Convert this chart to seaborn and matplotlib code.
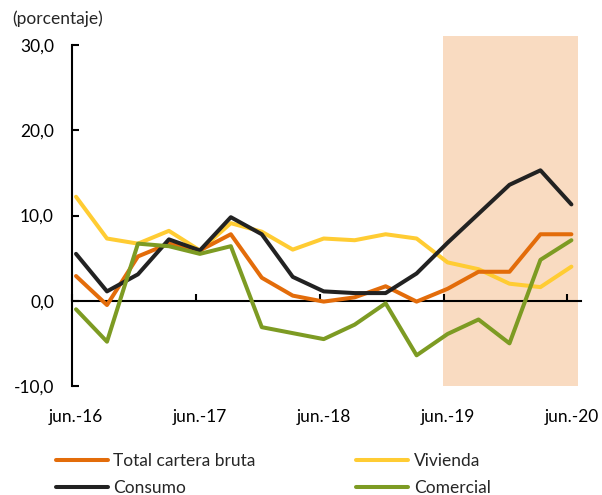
import matplotlib
matplotlib.use("Agg")
import matplotlib.pyplot as plt
import numpy as np
import pandas as pd
import seaborn as sns

# trimestres jun.-16 ... jun.-20
periodos = list(range(17))
etiquetas = ["jun.-16", "jun.-17", "jun.-18", "jun.-19", "jun.-20"]
pos_etiquetas = [0, 4, 8, 12, 16]

total = [2.9, -0.5, 5.2, 6.7, 5.9, 7.8, 2.7, 0.6, -0.1, 0.4, 1.7, -0.1, 1.4, 3.4, 3.4, 7.8, 7.8]
consumo = [5.5, 1.1, 3.1, 7.2, 5.9, 9.8, 7.8, 2.8, 1.1, 0.9, 0.9, 3.2, 6.8, 10.2, 13.6, 15.3, 11.3]
vivienda = [12.2, 7.3, 6.7, 8.2, 5.9, 9.1, 8.1, 6.0, 7.3, 7.1, 7.8, 7.3, 4.5, 3.7, 2.0, 1.6, 4.0]
comercial = [-1.0, -4.8, 6.7, 6.4, 5.5, 6.4, -3.1, -3.8, -4.5, -2.8, -0.3, -6.4, -3.9, -2.2, -5.0, 4.8, 7.1]

series = {
    "Total cartera bruta": (total, "#E36C0A", 3),
    "Consumo": (consumo, "#222222", 4),
    "Vivienda": (vivienda, "#FFCC33", 2),
    "Comercial": (comercial, "#7D9B23", 5),
}

sns.set_style("white")
plt.rcParams["font.family"] = ["Lato", "DejaVu Sans"]
fs = 12.5

fig = plt.figure(figsize=(6.02, 4.95), dpi=100)
ax = fig.add_axes([0.1196, 0.2202, 0.845, 0.7061])

ax.axvspan(11.85, 16.2, color="#F9DBC1", lw=0, zorder=0)

handles = {}
for nombre, (vals, color, z) in series.items():
    df = pd.DataFrame({"x": periodos, "y": vals})
    sns.lineplot(data=df, x="x", y="y", color=color, lw=2.9, ax=ax, zorder=z, label=nombre)
    handles[nombre] = ax.lines[-1]
ax.get_legend().remove()

ax.set_xlim(-0.13, 16.3)
ax.set_ylim(-10, 31)
ax.set_xlabel("")
ax.set_ylabel("")

for s in ["top", "right"]:
    ax.spines[s].set_visible(False)
ax.spines["left"].set_bounds(-10, 30)
ax.spines["left"].set_linewidth(1.5)
ax.spines["left"].set_color("black")
ax.spines["bottom"].set_position(("data", 0))
ax.spines["bottom"].set_bounds(-0.13, 16.3)
ax.spines["bottom"].set_linewidth(1.5)
ax.spines["bottom"].set_color("black")

ax.set_yticks([-10, 0, 10, 20, 30])
ax.set_yticklabels(["-10,0", "0,0", "10,0", "20,0", "30,0"])
# etiquetas centradas en el dato, marcas un poco a la izquierda
ax.set_xticks(pos_etiquetas)
ax.set_xticklabels(etiquetas)
ax.set_xticks([p - 0.13 for p in pos_etiquetas], minor=True)
ax.tick_params(axis="y", which="major", left=True, direction="in", length=5, width=1.5,
               pad=13, labelsize=fs, colors="black")
ax.tick_params(axis="x", which="major", bottom=True, length=0, pad=78, labelsize=fs, colors="black")
ax.tick_params(axis="x", which="minor", bottom=True, direction="in", length=5, width=1.5, color="black")

fig.text(0.02, 0.962, "(porcentaje)", fontsize=fs, ha="left", va="center")

orden = ["Total cartera bruta", "Consumo", "Vivienda", "Comercial"]
fig.legend([handles[n] for n in orden], orden, loc="upper left", bbox_to_anchor=(0.093, 0.085),
           ncol=2, frameon=False, fontsize=fs, handlelength=3.0, handletextpad=0.3,
           columnspacing=5.8, labelspacing=0.65, borderaxespad=0, borderpad=0)

fig.savefig("out.png", dpi=100)
